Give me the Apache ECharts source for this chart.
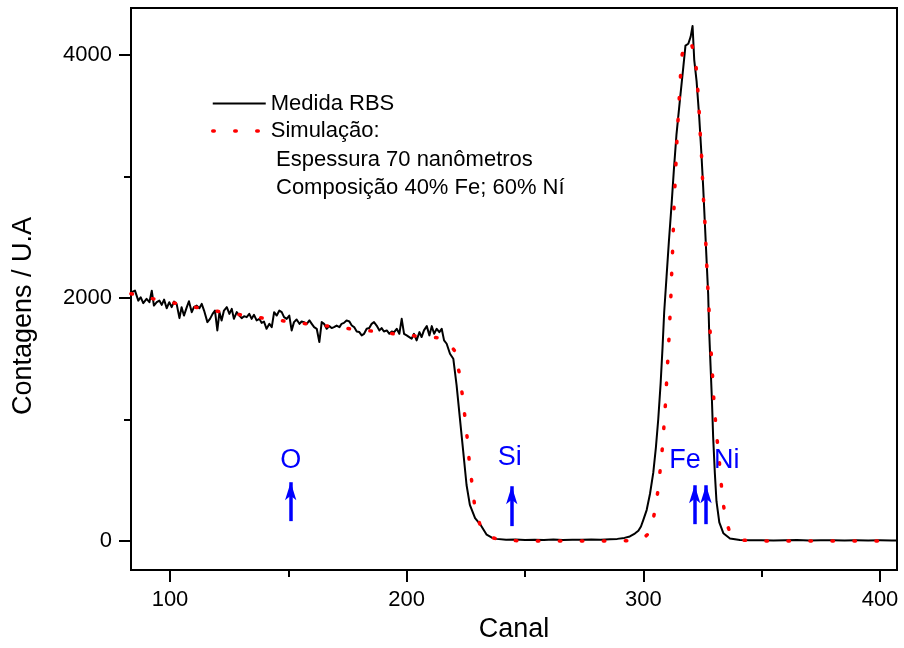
<!DOCTYPE html>
<html>
<head>
<meta charset="utf-8">
<script src="https://cdn.jsdelivr.net/npm/echarts@6/dist/echarts.min.js"></script>
<style>
html,body{margin:0;padding:0;background:#fff;}
#chart{width:904px;height:648px;}
</style>
</head>
<body>
<div id="chart"></div>
<script>
// ---- data (channel, counts) ----
var measuredRBS = [
[83.8,2047],[85.2,2060],[86.6,1978],[87.6,2006],[88.7,1957],[90.1,1992],[91.3,1965],[92.3,2060],[93.2,1937],[94.4,1965],
[95.5,1978],[96.5,1943],[97.5,1986],[98.6,1915],[99.7,1965],[100.7,1924],[101.7,1970],[102.8,1951],[104.0,1834],[104.9,1924],
[105.9,1855],[107.1,1924],[108.0,1973],[109.2,1883],[110.1,1924],[111.3,1937],[112.4,1915],[113.4,1951],[114.4,1896],[115.8,1801],
[116.9,1828],[118.0,1869],[119.0,1896],[120.0,1733],[120.9,1883],[121.8,1815],[122.8,1896],[124.0,1924],[125.1,1869],[126.1,1910],
[127.0,1828],[128.2,1883],[129.3,1855],[130.3,1834],[131.3,1850],[132.4,1842],[133.5,1869],[134.5,1828],[135.5,1861],[136.6,1815],
[137.8,1828],[138.7,1795],[139.7,1806],[140.8,1746],[142.0,1787],[143.0,1760],[144.0,1883],[145.1,1855],[146.2,1896],[147.2,1883],
[148.2,1842],[149.3,1828],[150.4,1855],[151.4,1733],[152.4,1801],[153.5,1823],[154.7,1787],[155.6,1806],[156.6,1801],[157.8,1787],
[158.9,1815],[159.9,1787],[160.9,1760],[162.0,1746],[163.1,1637],[164.1,1801],[165.1,1787],[166.2,1746],[167.3,1768],[168.3,1752],
[169.3,1760],[170.4,1773],[171.6,1760],[172.5,1787],[173.5,1795],[174.6,1815],[175.8,1806],[176.8,1773],[177.8,1760],[178.9,1724],
[180.0,1719],[181.0,1692],[182.0,1705],[183.1,1746],[184.2,1752],[185.2,1787],[186.2,1801],[187.3,1773],[188.5,1733],[189.4,1752],
[190.4,1724],[191.6,1733],[192.7,1705],[193.7,1724],[194.7,1719],[195.8,1746],[196.9,1705],[197.9,1828],[198.9,1705],[200.0,1692],
[201.1,1678],[202.1,1664],[203.1,1705],[204.2,1651],[205.4,1719],[206.3,1678],[207.3,1733],[208.5,1768],[209.6,1692],[210.6,1768],
[211.6,1705],[212.7,1746],[213.8,1719],[214.8,1746],[215.8,1651],[216.9,1623],[218.3,1541],[219.7,1500],
[221.1,1281],[222.5,1008],[223.9,735],[225.3,461],[226.7,298],[228.9,189],[231.0,140],[233.8,52],[236.0,28],[238.0,18],
[242,10],[246,12],[250,8],[254,11],[258,9],[262,12],[266,9],[270,11],[274,10],[278,12],[282,10],[286,14],[289,18],[292,26],
[294.3,38],[296.4,62],[297.9,85],[299.0,120],[300.0,175],[301.4,255],[302.8,387],[304.2,563],[305.3,768],[306.3,1002],
[307.3,1295],[308.1,1587],[308.8,1880],[309.8,2173],[310.8,2466],[311.9,2759],[312.9,3053],[314.0,3344],[315.5,3637],[316.9,3900],
[317.8,4076],[319.0,4091],[320.0,4149],[320.8,4237],[321.5,3959],[322.5,3783],[323.6,3491],[324.5,3198],[325.3,2905],[326.0,2612],
[326.7,2319],[327.4,2027],[327.8,1734],[328.4,1441],[329.0,1148],[329.5,855],[330.2,563],[330.9,328],[332.1,153],[333.8,65],
[336.6,21],[340.8,8],[345,6],[350,7],[355,5],[360,6],[365,8],[370,5],[375,6],[380,7],[385,5],[390,6],[395,5],[400,6],[405,5],[407.5,5]
];
var simulation = [
[83.5,2035],[93.0,1992],[102.1,1957],[111.3,1921],[120.7,1888],[130.0,1861],[139.2,1834],[148.5,1809],[157.8,1787],[166.9,1768],
[176.1,1746],[185.5,1727],[194.7,1705],[204.0,1686],[213.4,1672],[217.5,1630],[220.4,1563],[222.2,1385],[223.5,1205],[224.6,1022],
[225.6,844],[226.4,666],[227.5,489],[228.6,309],[230.0,190],[231.0,134],[233.0,70],[235.0,35],[239.0,12],[245.0,4],
[250,2],[260,1],[270,1],[280,1],[290,2],[295,3],[298,10],[300.5,30],[302.8,74],[304.0,160],
[304.9,255],[306.3,431],[307.3,621],[308.2,800],[308.8,973],[309.4,1148],[309.9,1339],[310.4,1514],[310.9,1690],[311.3,1866],
[311.7,2041],[312.0,2217],[312.4,2407],[312.7,2583],[313.0,2764],[313.4,2940],[313.8,3116],[314.2,3300],[314.7,3476],[315.2,3652],
[315.7,3827],[316.4,4003],[317.5,4075],[319.0,4105],[320.0,4111],[321.2,4030],[322.2,3924],[322.9,3745],[323.5,3573],[323.9,3394],
[324.5,3212],[324.9,3031],[325.3,2846],[325.9,2671],[326.3,2495],[326.7,2314],[327.1,2138],[327.6,1959],[328.1,1778],[328.5,1599],
[329.1,1423],[329.5,1242],[330.2,1060],[330.9,885],[331.9,703],[332.7,520],[333.5,343],[334.9,167],[336.5,75],[338.0,30],
[340.1,12],[345,3],[350,1],[360,1],[370,1],[380,1],[390,1],[400,1],[407.5,1]
];
// annotations
var elementLabels = ['O', 'Si', 'Fe', 'Ni'];
var labelChannels = [151.0, 243.6, 317.6, 335.2];
var labelCounts = [666, 686, 666, 666];
var arrowChannels = [151.0, 244.4, 321.7, 326.5];
var arrowTipCounts = [484, 451, 459, 459];
var arrowBaseCounts = [164, 123, 139, 139];
// axes
var xMajorTicks = [100, 200, 300, 400];
var xMinorTicks = [150, 250, 350];
var yMajorTicks = [0, 2000, 4000];
var yMinorTicks = [1000, 3000];
var legendNames = ['Medida RBS', 'Simulação:'];
var legendExtra = ['Espessura 70 nanômetros', 'Composição 40% Fe; 60% Ní'];

var FONT = "'Liberation Sans', Arial, sans-serif";
var chart = echarts.init(document.getElementById('chart'), null, {renderer: 'canvas'});

var xRange = {min: 83.52, max: 407.18};
var yRange = {min: -238, max: 4385};
function plain(v) { return String(v); }

function axisBase(extra) {
  return Object.assign({
    type: 'value',
    splitLine: {show: false},
    axisLine: {show: true, onZero: false, lineStyle: {color: '#000', width: 2}},
  }, extra);
}

var option = {
  animation: false,
  backgroundColor: '#fff',
  grid: {left: 131, right: 7, top: 8, bottom: 76, show: true, borderColor: '#000', borderWidth: 2, backgroundColor: 'transparent'},
  xAxis: [
    axisBase({
      min: xRange.min, max: xRange.max, position: 'bottom',
      axisTick: {show: true, length: 12, lineStyle: {color: '#000', width: 2}, customValues: xMajorTicks},
      axisLabel: {show: true, margin: 19, fontSize: 22, color: '#000', fontFamily: FONT, customValues: xMajorTicks, formatter: plain},
      name: 'Canal', nameLocation: 'middle', nameGap: 46,
      nameTextStyle: {fontSize: 27, color: '#000', fontFamily: FONT}
    }),
    axisBase({
      min: xRange.min, max: xRange.max, position: 'bottom', offset: 0,
      axisLine: {show: false, onZero: false},
      axisTick: {show: true, length: 7, lineStyle: {color: '#000', width: 2}, customValues: xMinorTicks},
      axisLabel: {show: false}
    })
  ],
  yAxis: [
    axisBase({
      min: yRange.min, max: yRange.max, position: 'left',
      axisTick: {show: true, length: 12, lineStyle: {color: '#000', width: 2}, customValues: yMajorTicks},
      axisLabel: {show: true, margin: 19, fontSize: 22, color: '#000', fontFamily: FONT, customValues: yMajorTicks, formatter: plain}
    }),
    axisBase({
      min: yRange.min, max: yRange.max, position: 'left', offset: 0,
      axisLine: {show: false, onZero: false},
      axisTick: {show: true, length: 7, lineStyle: {color: '#000', width: 2}, customValues: yMinorTicks},
      axisLabel: {show: false}
    })
  ],
  legend: {
    data: legendNames,
    orient: 'vertical',
    left: 211, top: 92.5,
    padding: 0,
    itemWidth: 53, itemHeight: 14, itemGap: 5.5,
    selectedMode: false,
    itemStyle: {color: 'rgba(0,0,0,0)', borderColor: 'rgba(0,0,0,0)', borderWidth: 0},
    lineStyle: {width: 'inherit', type: 'inherit', cap: 'inherit'},
    textStyle: {fontSize: 22, color: '#000', fontFamily: FONT}
  },
  graphic: [
    {type: 'text', x: 276, y: 159.5, style: {text: legendExtra[0], font: '22px ' + FONT, fill: '#000', textAlign: 'left', textVerticalAlign: 'middle'}},
    {type: 'text', x: 276, y: 188, style: {text: legendExtra[1], font: '22px ' + FONT, fill: '#000', textAlign: 'left', textVerticalAlign: 'middle'}},
    {type: 'text', x: 24, y: 316, rotation: Math.PI / 2, style: {text: 'Contagens / U.A', font: '27px ' + FONT, fill: '#000', textAlign: 'center', textVerticalAlign: 'middle'}}
  ],
  series: [
    {
      name: legendNames[0], type: 'line', xAxisIndex: 0, yAxisIndex: 0,
      data: measuredRBS, symbol: 'none', showSymbol: false, z: 2,
      lineStyle: {color: '#000', width: 2, join: 'round'},
      itemStyle: {color: '#000'}
    },
    {
      name: legendNames[1], type: 'line', xAxisIndex: 0, yAxisIndex: 0,
      data: simulation, symbol: 'none', showSymbol: false, z: 3,
      lineStyle: {color: '#ff0000', width: 3.5, type: [1.5, 20.5], cap: 'round'},
      itemStyle: {color: '#ff0000'}
    },
    {
      name: 'elements', type: 'scatter', xAxisIndex: 0, yAxisIndex: 0, z: 4,
      symbolSize: 0, itemStyle: {color: '#0000ff'}, silent: true,
      data: elementLabels.map(function (n, i) { return {name: n, value: [labelChannels[i], labelCounts[i]]}; }),
      label: {show: true, position: 'inside', formatter: '{b}', color: '#0000ff', fontSize: 27, fontFamily: FONT,
              textBorderWidth: 0, textBorderColor: 'transparent', opacity: 1},
      markLine: {
        silent: true, animation: false,
        symbol: ['none', 'arrow'], symbolSize: [8.5, 18],
        label: {show: false},
        lineStyle: {color: '#0000ff', width: 3.5, type: 'solid', opacity: 1},
        itemStyle: {color: '#0000ff'},
        data: arrowChannels.map(function (c, i) {
          return [{coord: [c, arrowBaseCounts[i]]}, {coord: [c, arrowTipCounts[i]]}];
        })
      }
    }
  ]
};
chart.setOption(option);
</script>
</body>
</html>
